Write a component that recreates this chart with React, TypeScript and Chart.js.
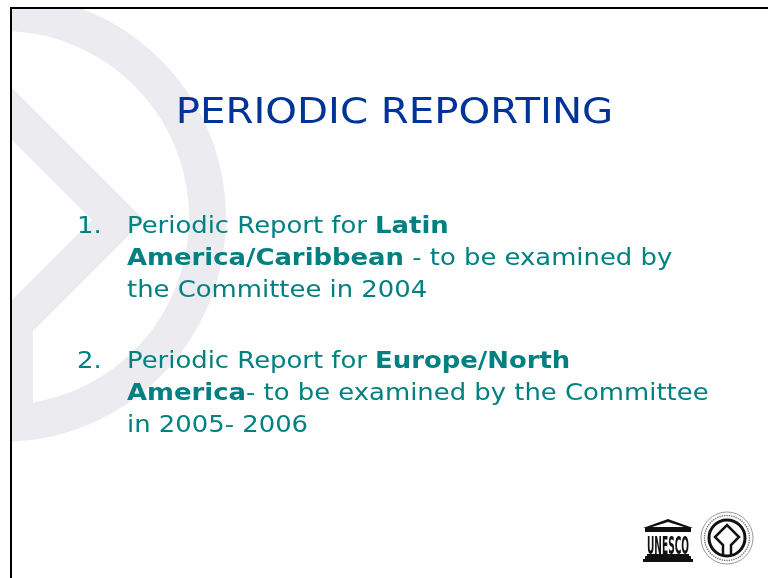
import React, { useEffect, useRef } from "react";
import { Chart, registerables } from "chart.js";

Chart.register(...registerables);

type Seg = [string, boolean];

const TITLE = "PERIODIC REPORTING";
const ITEM_NUMBERS = ["1.", "2."];
const ITEM1_LINES: Seg[][] = [
  [["Periodic Report for ", false], ["Latin", true]],
  [["America/Caribbean", true], [" - to be examined by", false]],
  [["the Committee in 2004", false]],
];
const ITEM2_LINES: Seg[][] = [
  [["Periodic Report for ", false], ["Europe/North", true]],
  [["America", true], ["- to be examined by the Committee", false]],
  [["in 2005- 2006", false]],
];
const ITEMS = [ITEM1_LINES, ITEM2_LINES];
const LOGO_TEXT = "UNESCO";

const W = 768;
const H = 578;
const FONT = '"DejaVu Sans", Verdana, sans-serif';
const TITLE_COLOR = "#003399";
const TEXT_COLOR = "#008080";
const EMBLEM_COLOR = "#ececf0";
const TEXT_STRETCH = 1.125;

function drawEmblem(ctx: CanvasRenderingContext2D) {
  ctx.save();
  ctx.beginPath();
  ctx.rect(12, 9, W - 12, H - 9);
  ctx.clip();
  ctx.fillStyle = EMBLEM_COLOR;
  const cx = 2, cy = 218, R = 224, r = 187;
  ctx.beginPath();
  ctx.arc(cx, cy, R, 0, Math.PI * 2);
  ctx.moveTo(cx + r, cy);
  ctx.arc(cx, cy, r, 0, Math.PI * 2, true);
  ctx.fill();
  ctx.beginPath();
  ctx.moveTo(-10, 66);
  ctx.lineTo(144, 220);
  ctx.lineTo(33, 331);
  ctx.lineTo(33, 420);
  ctx.lineTo(-10, 420);
  ctx.lineTo(-10, 322);
  ctx.lineTo(92, 220);
  ctx.lineTo(-10, 118);
  ctx.closePath();
  ctx.fill();
  ctx.restore();
}

function drawLogos(ctx: CanvasRenderingContext2D) {
  ctx.save();
  ctx.fillStyle = "#111";
  // UNESCO temple
  ctx.beginPath();
  ctx.moveTo(668, 519);
  ctx.lineTo(693, 528);
  ctx.lineTo(643, 528);
  ctx.closePath();
  ctx.fill();
  ctx.fillStyle = "#fff";
  ctx.beginPath();
  ctx.moveTo(668, 522);
  ctx.lineTo(684, 527);
  ctx.lineTo(652, 527);
  ctx.closePath();
  ctx.fill();
  ctx.fillStyle = "#111";
  ctx.fillRect(645, 528, 46, 4);
  ctx.save();
  ctx.font = `bold 25px ${FONT}`;
  ctx.textBaseline = "alphabetic";
  const tw = ctx.measureText(LOGO_TEXT).width;
  ctx.translate(647, 554);
  ctx.scale(42 / tw, 1.0);
  ctx.fillText(LOGO_TEXT, 0, 0);
  ctx.restore();
  ctx.fillRect(647, 554, 42, 2);
  ctx.fillRect(645, 556, 46, 3);
  ctx.fillRect(643, 559, 50, 3);
  // World heritage emblem
  const ex = 727, ey = 538;
  ctx.strokeStyle = "#999";
  ctx.lineWidth = 1;
  ctx.beginPath();
  ctx.arc(ex, ey, 26, 0, Math.PI * 2);
  ctx.stroke();
  ctx.fillStyle = "#777";
  for (let i = 0; i < 60; i++) {
    const a = (i / 60) * Math.PI * 2;
    ctx.fillRect(ex + Math.cos(a) * 22.5 - 0.7, ey + Math.sin(a) * 22.5 - 0.7, 1.4, 1.4);
  }
  ctx.strokeStyle = "#111";
  ctx.lineWidth = 3;
  ctx.beginPath();
  ctx.arc(ex, ey, 18, 0, Math.PI * 2);
  ctx.stroke();
  ctx.lineWidth = 2.5;
  ctx.beginPath();
  ctx.moveTo(ex - 4, ey + 18);
  ctx.lineTo(ex - 4, ey + 7);
  ctx.lineTo(ex - 12, ey - 1);
  ctx.lineTo(ex, ey - 13);
  ctx.lineTo(ex + 12, ey - 1);
  ctx.lineTo(ex + 4, ey + 7);
  ctx.lineTo(ex + 4, ey + 18);
  ctx.stroke();
  ctx.restore();
}

const slidePlugin = {
  id: "slide",
  beforeDraw(chart: any) {
    const ctx: CanvasRenderingContext2D = chart.ctx;
    ctx.save();
    ctx.fillStyle = "#fff";
    ctx.fillRect(0, 0, W, H);
    drawEmblem(ctx);
    ctx.fillStyle = "#000";
    ctx.fillRect(10, 7, W - 10, 2);
    ctx.fillRect(10, 7, 2, H - 7);
    ctx.restore();
  },
  afterDraw(chart: any) {
    const ctx: CanvasRenderingContext2D = chart.ctx;
    ctx.save();
    // Title
    ctx.font = `36px ${FONT}`;
    ctx.fillStyle = TITLE_COLOR;
    ctx.textBaseline = "alphabetic";
    const m = ctx.measureText(TITLE);
    const ink = m.actualBoundingBoxLeft + m.actualBoundingBoxRight;
    const sx = 431 / ink;
    ctx.save();
    ctx.translate(179, 123);
    ctx.scale(sx, 1);
    ctx.fillText(TITLE, m.actualBoundingBoxLeft, 0);
    ctx.restore();
    // Items
    ctx.fillStyle = TEXT_COLOR;
    const baseTops = [233, 368];
    ITEMS.forEach((lines, i) => {
      ctx.save();
      ctx.font = `23px ${FONT}`;
      ctx.translate(77, baseTops[i]);
      ctx.scale(TEXT_STRETCH, 1);
      ctx.fillText(ITEM_NUMBERS[i], 0, 0);
      ctx.restore();
      lines.forEach((segs, j) => {
        const y = baseTops[i] + j * 32;
        ctx.save();
        ctx.translate(127, y);
        ctx.scale(TEXT_STRETCH, 1);
        let x = 0;
        segs.forEach(([txt, bold]) => {
          ctx.font = `${bold ? "bold " : ""}23px ${FONT}`;
          ctx.fillText(txt, x, 0);
          x += ctx.measureText(txt).width;
        });
        ctx.restore();
      });
    });
    drawLogos(ctx);
    ctx.restore();
  },
};

export default function App() {
  const ref = useRef<HTMLCanvasElement | null>(null);
  useEffect(() => {
    document.body.style.margin = "0";
    const canvas = ref.current;
    if (!canvas) return;
    const chart = new Chart(canvas, {
      type: "scatter",
      data: { datasets: [] },
      options: {
        responsive: false,
        animation: false,
        devicePixelRatio: 1,
        plugins: { legend: { display: false }, tooltip: { enabled: false }, title: { display: false } },
        scales: { x: { display: false }, y: { display: false } },
      },
      plugins: [slidePlugin],
    });
    return () => chart.destroy();
  }, []);
  return (
    <div style={{ width: W, height: H }}>
      <canvas ref={ref} width={W} height={H} style={{ display: "block" }} />
    </div>
  );
}
